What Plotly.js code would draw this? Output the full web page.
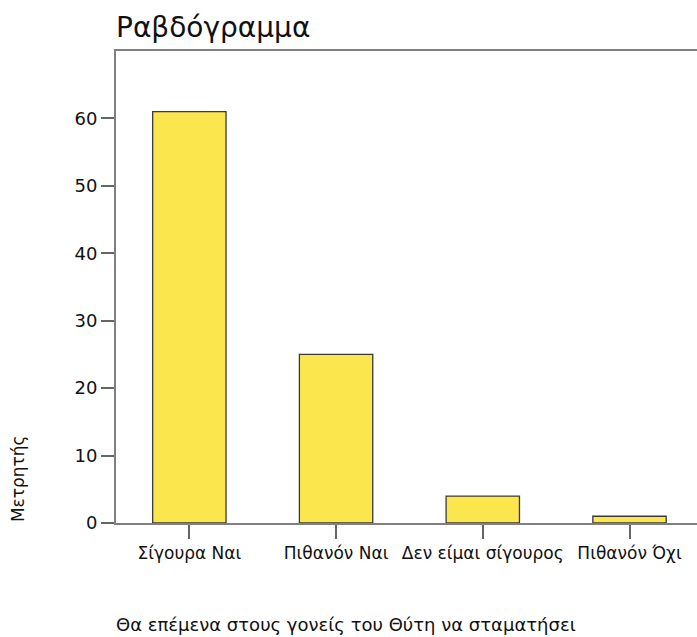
<!DOCTYPE html>
<html>
<head>
<meta charset="utf-8">
<script src="https://cdn.plot.ly/plotly-3.0.1.min.js"></script>
<style>html,body{margin:0;padding:0;background:#fff;}#chart{width:697px;height:637px;}</style>
</head>
<body>
<div id="chart"></div>
<script>
const categories = ["Σίγουρα Ναι", "Πιθανόν Ναι", "Δεν είμαι σίγουρος", "Πιθανόν Όχι"];
const counts = [61, 25, 4, 1];
const yTicks = [0, 10, 20, 30, 40, 50, 60];
const chartTitle = "Ραβδόγραμμα";
const xTitle = "Θα επέμενα στους γονείς του Θύτη να σταματήσει";
const yTitle = "Μετρητής";

const font = "DejaVu Sans, Verdana, sans-serif";

Plotly.newPlot("chart", [{
  type: "bar",
  x: categories,
  y: counts,
  width: 0.5,
  marker: {color: "#FCE64E", line: {color: "#3a3a3a", width: 1.3}},
  hoverinfo: "none"
}], {
  width: 697, height: 637,
  margin: {l: 116, r: 0, t: 51, b: 114},
  paper_bgcolor: "#fff", plot_bgcolor: "#fff",
  showlegend: false,
  font: {family: font, color: "#111", size: 17},
  xaxis: {
    range: [-0.5, 3.46], showgrid: false, zeroline: false,
    showline: true, linecolor: "#808080", linewidth: 2, mirror: true,
    ticks: "outside", ticklen: 14, tickwidth: 2, tickcolor: "#666",
    tickfont: {family: font, size: 17, color: "#111"}, fixedrange: true
  },
  yaxis: {
    range: [0, 70], showgrid: false, zeroline: false,
    tickvals: yTicks, ticktext: yTicks.map(String),
    showline: true, linecolor: "#808080", linewidth: 2,
    ticks: "outside", ticklen: 13, tickwidth: 2, tickcolor: "#666",
    tickfont: {family: font, size: 18, color: "#111"}, fixedrange: true
  },
  annotations: [
    {text: chartTitle, xref: "paper", yref: "paper", x: 0, xshift: -2, y: 1, yshift: 5, xanchor: "left", yanchor: "bottom", showarrow: false, font: {family: font, size: 28, color: "#111"}},
    {text: xTitle, xref: "paper", yref: "paper", x: 0, xshift: -2, y: 0, yshift: -101, xanchor: "left", yanchor: "middle", showarrow: false, font: {family: font, size: 18, color: "#111"}},
    {text: yTitle, xref: "paper", yref: "paper", x: 0, xshift: -98, y: 0.093, xanchor: "center", yanchor: "middle", textangle: -90, showarrow: false, font: {family: font, size: 17, color: "#111"}}
  ]
}, {displayModeBar: false, staticPlot: true});
</script>
</body>
</html>
